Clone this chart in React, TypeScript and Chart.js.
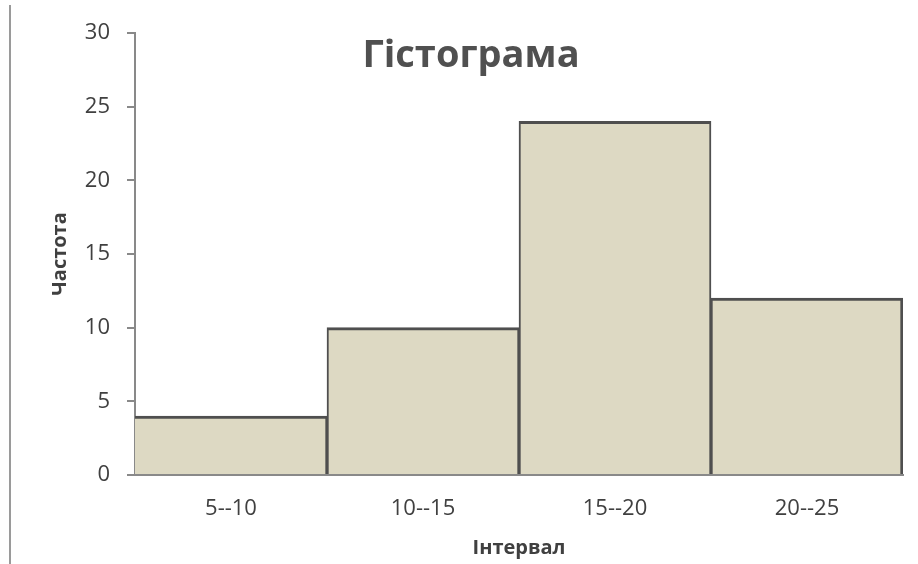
import React, { useEffect, useRef } from "react";
import { Chart, registerables } from "chart.js";

Chart.register(...registerables);

// Histogram data
const intervals = ["5--10", "10--15", "15--20", "20--25"];
const frequencies = [4, 10, 24, 12];
const yTicks = [0, 5, 10, 15, 20, 25, 30];

const chartTitle = "Гістограма";
const xTitle = "Інтервал";
const yTitle = "Частота";

const FONT = "'Open Sans', 'Noto Sans', sans-serif";
const TEXT = "#404040";
const AXIS = "#898989";
const FILL = "#DDD9C3";
const EDGE = "#4F4F4F";

// Title drawn as an overlay inside the plot area
const overlayTitle = {
  id: "overlayTitle",
  afterDraw(chart: any) {
    const { ctx, chartArea } = chart;
    ctx.save();
    ctx.font = `bold 38px ${FONT}`;
    ctx.fillStyle = "#505050";
    ctx.textAlign = "center";
    ctx.textBaseline = "middle";
    ctx.fillText(chartTitle, chartArea.left + 336, chartArea.top + 23);
    ctx.restore();
  },
};

export default function App() {
  const ref = useRef<HTMLCanvasElement | null>(null);

  useEffect(() => {
    if (!ref.current) return;
    const last = frequencies.length - 1;
    const chart = new Chart(ref.current, {
      type: "bar",
      data: {
        labels: intervals,
        datasets: [
          {
            data: frequencies,
            backgroundColor: FILL,
            borderColor: EDGE,
            borderSkipped: false,
            borderWidth: (c: any) => ({
              top: 3,
              bottom: 0,
              left: c.dataIndex === 0 ? 0 : 2,
              right: c.dataIndex === last ? 3 : 2,
            }),
            barPercentage: 1,
            categoryPercentage: 1,
          },
        ],
      },
      options: {
        responsive: false,
        animation: false,
        layout: { padding: { top: 33, right: 15, left: 42, bottom: 4 } },
        plugins: {
          legend: { display: false },
          tooltip: { enabled: false },
          title: { display: false },
        },
        scales: {
          x: {
            z: 1,
            grid: { display: true, drawOnChartArea: false, drawTicks: false },
            border: { display: true, color: AXIS, width: 2 },
            ticks: {
              color: TEXT,
              font: { family: FONT, size: 22 },
              padding: 21,
            },
            title: {
              display: true,
              text: xTitle,
              color: TEXT,
              font: { family: FONT, size: 20, weight: "bold" },
              padding: { top: 0, bottom: 0 },
            },
            afterFit(scale: any) {
              scale.height = 85;
            },
          },
          y: {
            z: 1,
            min: 0,
            max: 30,
            afterBuildTicks(scale: any) {
              scale.ticks = yTicks.map((v) => ({ value: v }));
            },
            grid: {
              display: true,
              drawOnChartArea: false,
              drawTicks: true,
              tickLength: 8,
              tickColor: AXIS,
              lineWidth: 2,
            },
            border: { display: true, color: AXIS, width: 2 },
            ticks: {
              color: TEXT,
              font: { family: FONT, size: 22 },
              padding: 17,
            },
            title: {
              display: true,
              text: yTitle,
              color: TEXT,
              font: { family: FONT, size: 20, weight: "bold" },
              padding: { top: 6, bottom: 0 },
            },
            afterFit(scale: any) {
              scale.width = 93;
            },
          },
        },
      },
      plugins: [overlayTitle],
    });
    return () => chart.destroy();
  }, []);

  return (
    <div style={{ position: "fixed", left: 0, top: 0, width: 918, height: 564, background: "#fff" }}>
      <div
        style={{
          position: "absolute",
          left: 9,
          top: 5,
          width: 0,
          height: 559,
          borderLeft: "2px solid #9a9a9a",
        }}
      />
      <canvas ref={ref} width={918} height={564} style={{ position: "absolute", left: 0, top: 0 }} />
    </div>
  );
}
